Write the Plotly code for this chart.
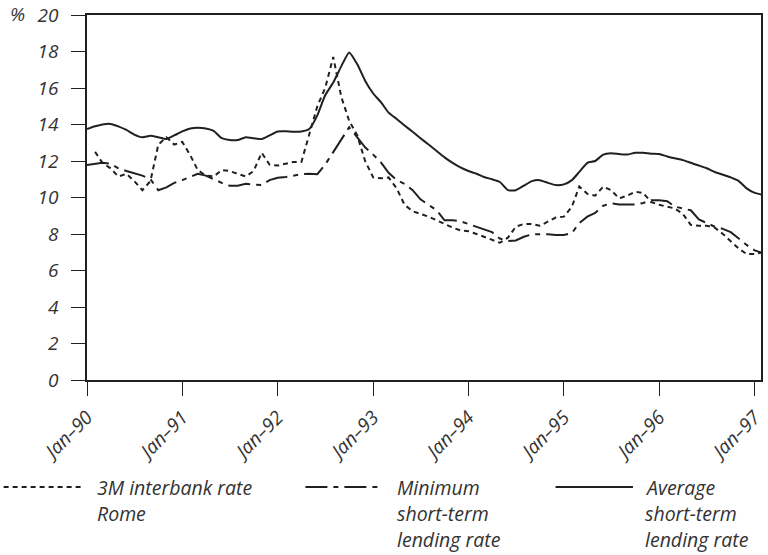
import plotly.graph_objects as go
import pandas as pd

# ---- data (monthly) ----
months_all = pd.date_range("1990-01-01", "1997-02-01", freq="MS")

average_rate = [
    13.75, 13.9, 14.0, 14.03, 13.9, 13.7, 13.45, 13.3, 13.38, 13.3, 13.2, 13.4,
    13.62, 13.78, 13.82, 13.78, 13.65, 13.25, 13.15, 13.15, 13.3, 13.25, 13.2, 13.4,
    13.62, 13.63, 13.6, 13.62, 13.75, 14.5, 15.6, 16.3, 17.2, 17.95, 17.3, 16.4,
    15.7, 15.2, 14.65, 14.3, 13.95, 13.6, 13.25, 12.9, 12.55, 12.2, 11.9, 11.65,
    11.45, 11.3, 11.12, 11.0, 10.85, 10.4, 10.4, 10.65, 10.9, 10.95, 10.8, 10.68,
    10.72, 10.95, 11.4, 11.9, 12.0, 12.35, 12.42, 12.38, 12.35, 12.45, 12.45, 12.4,
    12.38, 12.25, 12.15, 12.05, 11.9, 11.75, 11.6, 11.4, 11.25, 11.1, 10.9, 10.5,
    10.25, 10.15,
]

minimum_rate = [
    11.78, 11.85, 11.9, 11.85, 11.6, 11.45, 11.32, 11.2, 11.0, 10.4, 10.55, 10.8,
    10.95, 11.15, 11.3, 11.2, 11.0, 10.8, 10.65, 10.65, 10.75, 10.7, 10.68, 10.95,
    11.08, 11.12, 11.2, 11.28, 11.3, 11.28, 11.8, 12.5, 13.2, 13.85, 13.3, 12.75,
    12.35, 11.9, 11.35, 10.95, 10.75, 10.4, 9.9, 9.6, 9.3, 8.75, 8.75, 8.7,
    8.55, 8.4, 8.25, 8.1, 7.75, 7.62, 7.65, 7.85, 7.98, 8.0, 7.98, 7.95,
    7.95, 8.05, 8.6, 8.95, 9.15, 9.55, 9.68, 9.62, 9.6, 9.62, 9.7, 9.85,
    9.85, 9.8, 9.5, 9.4, 9.3, 8.8, 8.6, 8.4, 8.28, 8.1, 7.75, 7.4,
    7.1, 6.95,
]

# interbank series starts one month later (Feb-90)
interbank_rate = [
    12.5, 11.9, 11.6, 11.15, 11.3, 10.9, 10.4, 10.9, 12.9, 13.3, 12.9,
    13.05, 12.3, 11.5, 11.2, 11.15, 11.5, 11.45, 11.3, 11.15, 11.45, 12.45, 11.8,
    11.75, 11.85, 11.95, 11.95, 13.5, 15.0, 16.0, 17.7, 15.5, 14.2, 13.4, 12.0,
    11.1, 11.05, 11.1, 10.5, 9.6, 9.25, 9.1, 8.95, 8.75, 8.55, 8.35, 8.2,
    8.15, 8.0, 7.85, 7.7, 7.52, 7.8, 8.4, 8.55, 8.55, 8.45, 8.7, 8.9,
    8.95, 9.5, 10.6, 10.2, 10.1, 10.6, 10.4, 9.95, 10.1, 10.32, 10.25, 9.75,
    9.6, 9.5, 9.4, 9.1, 8.5, 8.45, 8.45, 8.35, 8.0, 7.6, 7.2, 6.9,
    6.9, 7.0,
]

tick_dates = ["1990-01-01", "1991-01-01", "1992-01-01", "1993-01-01",
              "1994-01-01", "1995-01-01", "1996-01-01", "1997-01-01"]
tick_labels = ["Jan–90", "Jan–91", "Jan–92", "Jan–93",
               "Jan–94", "Jan–95", "Jan–96", "Jan–97"]
y_ticks = [0, 2, 4, 6, 8, 10, 12, 14, 16, 18, 20]

series_names = ["3M interbank rate<br>Rome",
                "Minimum<br>short-term<br>lending rate",
                "Average<br>short-term<br>lending rate"]

INK = "#231f20"
TXT = "#333333"
FONT = "Open Sans"
DOT = "5px,4px"
DASHDOT = "22px,6px,5px,6px"

fig = go.Figure()
fig.add_trace(go.Scatter(x=months_all[1:1 + len(interbank_rate)], y=interbank_rate,
                         mode="lines", line=dict(color=INK, width=2, dash=DOT),
                         name="3M interbank rate Rome", showlegend=False))
fig.add_trace(go.Scatter(x=months_all[:len(minimum_rate)], y=minimum_rate,
                         mode="lines", line=dict(color=INK, width=2, dash=DASHDOT),
                         name="Minimum short-term lending rate", showlegend=False))
fig.add_trace(go.Scatter(x=months_all[:len(average_rate)], y=average_rate,
                         mode="lines", line=dict(color=INK, width=2, shape="spline", smoothing=0.5),
                         name="Average short-term lending rate", showlegend=False))

W, H = 768, 555
L, R, T, B = 87, 2, 15, 175
pw, ph = W - L - R, H - T - B


def px(xp):
    return (xp - L) / pw


def py(yp):
    return (H - B - yp) / ph


text_font = dict(family=FONT, size=19.5, color=TXT, style="italic", weight=400)
tick_font = dict(family=FONT, size=19, color=TXT, style="italic", weight=400)

fig.update_layout(
    width=W, height=H,
    margin=dict(l=L, r=R, t=T, b=B, pad=0),
    paper_bgcolor="white", plot_bgcolor="white",
    showlegend=False,
    xaxis=dict(
        type="date", range=["1990-01-01", "1997-01-25"],
        tickmode="array", tickvals=tick_dates, ticktext=tick_labels,
        tickangle=-45, ticks="outside", ticklen=14, tickwidth=1.3, tickcolor=INK,
        showline=True, linecolor=INK, linewidth=1.5, mirror=True,
        showgrid=False, zeroline=False, ticklabeloverflow="allow",
        ticklabelstandoff=3,
        tickfont=tick_font,
    ),
    yaxis=dict(
        range=[0, 20], tickmode="array", tickvals=y_ticks,
        ticks="outside", ticklen=14, tickwidth=1.3, tickcolor=INK,
        showline=True, linecolor=INK, linewidth=1.5, mirror=True,
        showgrid=False, zeroline=False, ticklabelstandoff=9,
        tickfont=tick_font,
    ),
)

# "%" unit label
fig.add_annotation(xref="paper", yref="paper", x=px(17), y=py(14), text="%",
                   showarrow=False, xanchor="center", yanchor="middle",
                   font=tick_font)

# manual legend
leg_y = 487
samples = [(3, 82, DOT, 95), (307, 385, DASHDOT, 397), (559, 637, "solid", 647)]
for (x0, x1, dash, tx), name in zip(samples, series_names):
    fig.add_shape(type="line", xref="paper", yref="paper",
                  x0=px(x0), x1=px(x1), y0=py(leg_y), y1=py(leg_y),
                  line=dict(color=INK, width=2, dash=dash))
    for i, line in enumerate(name.split("<br>")):
        fig.add_annotation(xref="paper", yref="paper", x=px(tx), y=py(leg_y + 26 * i),
                           text=line, showarrow=False, xanchor="left", yanchor="middle",
                           font=text_font)

fig.write_html("out.html", config={"displayModeBar": False},
               post_script="document.body.style.margin='0px';document.body.style.overflow='hidden';")
